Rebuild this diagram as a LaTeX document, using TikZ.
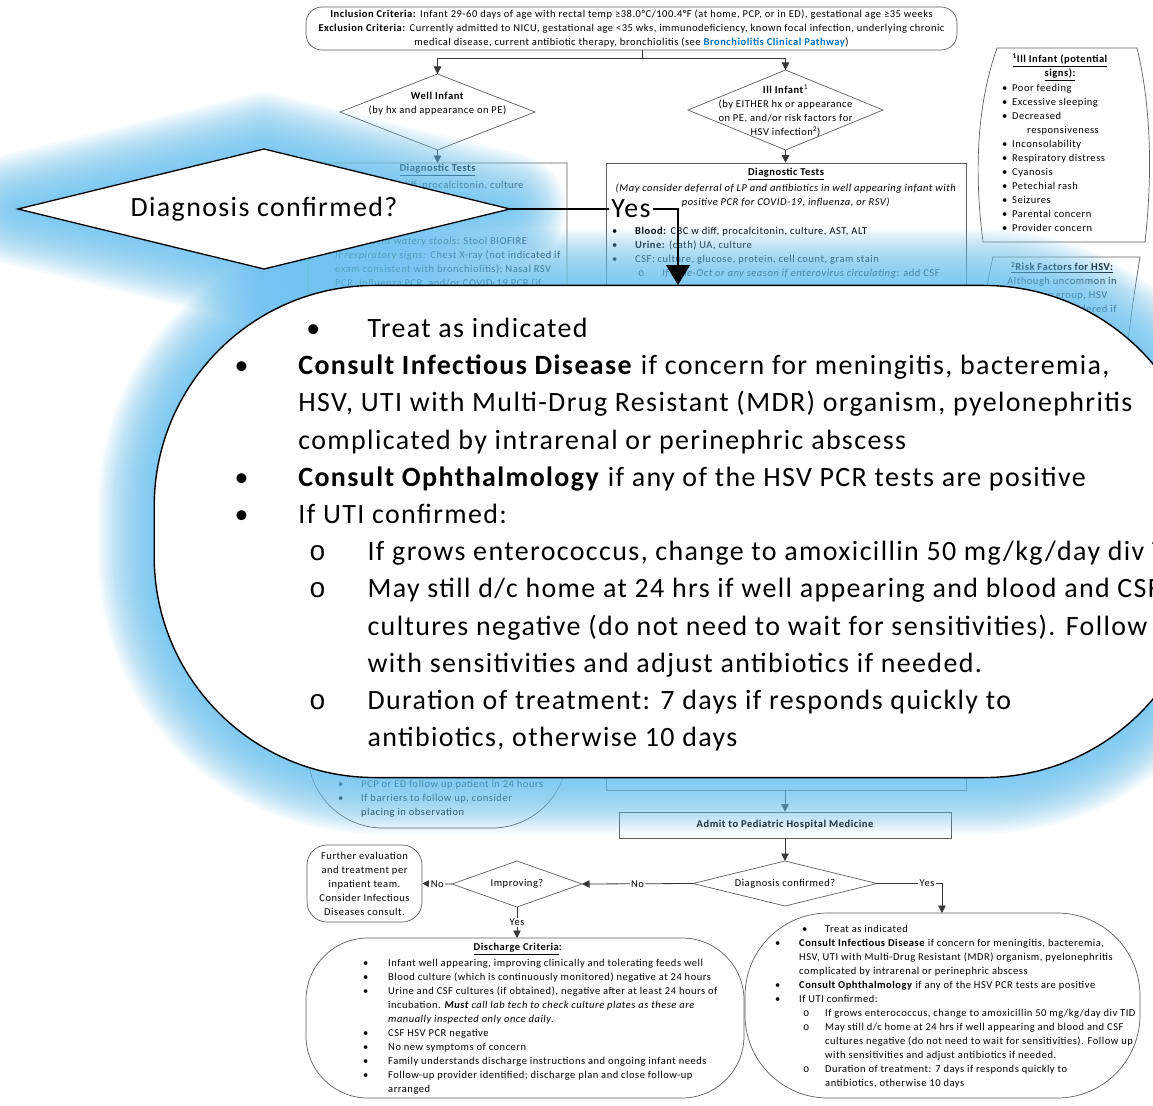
\documentclass[tikz,border=0pt]{standalone}
\usepackage{fontspec}
\setmainfont{Carlito}[LetterSpace=5]
\newfontfamily\monof{Liberation Mono}
\usetikzlibrary{arrows.meta,shapes.geometric}

\definecolor{linkblue}{RGB}{0,112,192}
\definecolor{glowblue}{RGB}{105,195,242}
\definecolor{edgegray}{RGB}{95,95,95}
\definecolor{wiregray}{RGB}{55,55,55}

\newcommand{\fsn}{\fontsize{10.5}{14}\selectfont}
\newcommand{\fbig}{\fontsize{27.9}{32}\selectfont}
% list helpers: left offset, label box width, text
\newcommand{\itemdot}[3]{\hspace*{#1pt}\makebox[#2pt][l]{\textbullet}#3}
\newcommand{\itemring}[3]{\hspace*{#1pt}\makebox[#2pt][l]{\monof o}#3}
\newcommand{\itemcont}[2]{\hspace*{#1pt}#2}

% body of the treatment box, used at normal size and magnified
\newcommand{\treatbody}{%
\itemdot{27}{23}{Treat as indicated}\\
\itemdot{0}{24}{\textbf{Consult Infectious Disease} if concern for meningitis, bacteremia,}\\
\itemcont{24}{HSV, UTI with Multi-Drug Resistant (MDR) organism, pyelonephritis}\\
\itemcont{24}{complicated by intrarenal or perinephric abscess}\\
\itemdot{0}{24}{\textbf{Consult Ophthalmology} if any of the HSV PCR tests are positive}\\
\itemdot{0}{24}{If UTI confirmed:}\\
\itemring{28}{22}{If grows enterococcus, change to amoxicillin 50 mg/kg/day div TID}\\
\itemring{28}{22}{May still d/c home at 24 hrs if well appearing and blood and CSF}\\
\itemcont{50}{cultures negative (do not need to wait for sensitivities). Follow up}\\
\itemcont{50}{with sensitivities and adjust antibiotics if needed.}\\
\itemring{28}{22}{Duration of treatment: 7 days if responds quickly to}\\
\itemcont{50}{antibiotics, otherwise 10 days}}

\tikzset{
  edge line/.style={draw=edgegray, line width=0.7pt},
  wire/.style={draw=wiregray, line width=0.8pt},
  arrowed/.style={-{Triangle[width=7.5pt,length=7.5pt]}},
  txt/.style={font=\fsn, inner sep=0pt, align=left, anchor=north west},
  ctxt/.style={font=\fsn, inner sep=0pt, align=center},
  lbl/.style={font=\fsn, fill=white, inner sep=1.5pt},
  flowdiamond/.style={diamond, edge line, inner sep=0pt, outer sep=0pt},
  treat outline/.style={insert path={(828,913) -- (1057,913)
      arc[start angle=-90,end angle=0,radius=83] -- (1140,1015)
      arc[start angle=0,end angle=90,radius=83] -- (828,1098)
      arc[start angle=90,end angle=180,radius=83] -- (745,996)
      arc[start angle=180,end angle=270,radius=83] -- cycle}},
  magnify/.style={shift={(-1827.5,-2143.14)}, scale=2.66},
  glowstroke/.style={draw=glowblue, opacity=0.055, line join=round},
  bigwire/.style={draw=black, line width=1.2pt},
}

\begin{document}
\begin{tikzpicture}[x=1pt,y=-1pt]
\useasboundingbox (0,0) rectangle (1153,1105);
\clip (0,0) rectangle (1153,1105);
\fill[white] (0,0) rectangle (1153,1105);

% ---------------- pathway flowchart ----------------
\node[edge line, rounded corners=16pt, minimum width=651pt, minimum height=43pt, ctxt] (topbox) at (631.5,28.5)
 {\textbf{Inclusion Criteria:} Infant 29-60 days of age with rectal temp ≥38.0°C/100.4°F (at home, PCP, or in ED), gestational age ≥35 weeks\\
  \textbf{Exclusion Criteria:} Currently admitted to NICU, gestational age <35 wks, immunodeficiency, known focal infection, underlying chronic\\
  medical disease, current antibiotic therapy, bronchiolitis (see \textcolor{linkblue}{\textbf{Bronchiolitis Clinical Pathway}})};

\node[flowdiamond, minimum width=195pt, minimum height=76pt] (well) at (437.5,112) {};
\node[ctxt] (welltxt) at (437.5,104) {\textbf{Well Infant}\\(by hx and appearance on PE)};
\node[flowdiamond, minimum width=195pt, minimum height=80pt] (ill) at (785.5,110) {};
\node[ctxt] (illtxt) at (785.5,111) {\textbf{Ill Infant}\textsuperscript{1}\\(by EITHER hx or appearance\\on PE, and/or risk factors for\\HSV infection\textsuperscript{2})};

\coordinate (split) at (642,58);
\draw[wire] (topbox.south -| split) -- (split);
\draw[wire, arrowed] (split) -| (well.north);
\draw[wire, arrowed] (split) -| (ill.north);

% well infant work-up box
\draw[edge line] (308,163) -- (308,753) arc[start angle=180,end angle=90,radius=75]
  -- (492,828) arc[start angle=90,end angle=0,radius=75] -- (567,163) -- cycle;
\coordinate (lboxtop) at (437.5,163);
\draw[wire, arrowed] (well.south) -- (lboxtop);
\node[ctxt] (ltitle) at (437.5,170) {\textbf{\underline{Diagnostic Tests}}};
\node[txt] (lblood) at (335,181) {\textbf{Blood:} CBC w diff, procalcitonin, culture};
\node[txt] (lresp) at (335,237) {\textit{If persistent watery stools}: Stool BIOFIRE\\
  \textit{If respiratory signs:} Chest X-ray (not indicated if\\
  exam consistent with bronchiolitis); Nasal RSV\\
  PCR, Influenza PCR, and/or COVID-19 PCR (if};
\node[txt] (lfollow) at (338,780) {\itemdot{0}{23}{PCP or ED follow up patient in 24 hours}\\
  \itemdot{0}{23}{If barriers to follow up, consider}\\
  \itemcont{23}{placing in observation}};

% ill infant work-up box
\node[edge line, minimum width=360pt, minimum height=627pt, inner sep=0pt] (rbox) at (786,476.5) {};
\draw[wire, arrowed] (ill.south) -- (ill.south |- rbox.north);
\node[ctxt] (rtitle) at (786,174) {\textbf{\underline{Diagnostic Tests}}};
\node[ctxt] (rnote) at (786,196) {\textit{(May consider deferral of LP and antibiotics in well appearing infant with}\\
  \textit{positive PCR for COVID-19, influenza, or RSV)}};
\node[txt] (rlist) at (612,227) {\itemdot{0}{23}{\textbf{Blood:} CBC w diff, procalcitonin, culture, AST, ALT}\\
  \itemdot{0}{23}{\textbf{Urine:} (cath) UA, culture}\\
  \itemdot{0}{23}{CSF: culture, glucose, protein, cell count, gram stain}\\
  \itemring{26}{24}{\textit{If June-Oct or any season if enterovirus circulating}: add CSF}};

% footnote panels
\draw[edge line] (997,48) -- (1137,48) .. controls (1152,110) and (1152,180) .. (1145,242)
  -- (983,242) .. controls (975,180) and (975,110) .. (997,48) -- cycle;
\node[ctxt, anchor=north] (p1title) at (1060,54) {\textbf{\underline{\textsuperscript{1}Ill Infant (potential}}\\\textbf{\underline{signs):}}};
\node[txt] (p1list) at (1002,84) {\itemdot{0}{10}{Poor feeding}\\\itemdot{0}{10}{Excessive sleeping}\\
  \itemdot{0}{10}{Decreased}\\\itemcont{25}{responsiveness}\\\itemdot{0}{10}{Inconsolability}\\
  \itemdot{0}{10}{Respiratory distress}\\\itemdot{0}{10}{Cyanosis}\\\itemdot{0}{10}{Petechial rash}\\
  \itemdot{0}{10}{Seizures}\\\itemdot{0}{10}{Parental concern}\\\itemdot{0}{10}{Provider concern}};
\draw[edge line] (993,257) -- (1140,257) .. controls (1128,330) and (1120,400) .. (1115,500)
  -- (980,500) .. controls (975,400) and (978,320) .. (993,257) -- cycle;
\node[ctxt, anchor=north] (p2text) at (1062,262) {\textbf{\underline{\textsuperscript{2}Risk Factors for HSV:}}\\
  Although uncommon in\\this age group, HSV\\should be considered if};

% admission and inpatient decisions
\node[edge line, minimum width=332pt, minimum height=26pt, font=\fsn\bfseries] (admit) at (785,825) {Admit to Pediatric Hospital Medicine};
\draw[wire, arrowed] (rbox.south -| admit) -- (admit.north);
\node[flowdiamond, minimum width=184pt, minimum height=45pt] (dc) at (785,883.5) {};
\node[ctxt] (dctxt) at (dc) {Diagnosis confirmed?};
\draw[wire, arrowed] (admit.south) -- (dc.north);
\node[flowdiamond, minimum width=130pt, minimum height=46pt] (imp) at (517,884) {};
\node[ctxt] (imptxt) at (imp) {Improving?};
\draw[wire, arrowed] (dc.west) -- node[lbl] (dcno) {No} (imp.east);
\node[edge line, rounded corners=20pt, minimum width=115pt, minimum height=77pt, ctxt] (further) at (364.5,883.5)
 {Further evaluation\\and treatment per\\inpatient team.\\Consider Infectious\\Diseases consult.};
\draw[wire, arrowed] (imp.west) -- node[lbl] (impno) {No} (further.east);

% discharge criteria
\draw[edge line] (368,938) -- (682,938) arc[start angle=-90,end angle=0,radius=62] -- (744,1036)
  arc[start angle=0,end angle=90,radius=62] -- (368,1098) arc[start angle=90,end angle=180,radius=62]
  -- (306,1000) arc[start angle=180,end angle=270,radius=62] -- cycle;
\coordinate (dischtop) at (517,938);
\draw[wire, arrowed] (imp.south) -- node[lbl] (impyes) {Yes} (dischtop);
\node[ctxt] (dtitle) at (518,949) {\textbf{\underline{Discharge Criteria}:}};
\node[txt] (dlist) at (363,959) {\itemdot{0}{25}{Infant well appearing, improving clinically and tolerating feeds well}\\
  \itemdot{0}{25}{Blood culture (which is continuously monitored) negative at 24 hours}\\
  \itemdot{0}{25}{Urine and CSF cultures (if obtained), negative after at least 24 hours of}\\
  \itemcont{25}{incubation. \textit{\textbf{Must} call lab tech to check culture plates as these are}}\\
  \itemcont{25}{\textit{manually inspected only once daily}.}\\
  \itemdot{0}{25}{CSF HSV PCR negative}\\
  \itemdot{0}{25}{No new symptoms of concern}\\
  \itemdot{0}{25}{Family understands discharge instructions and ongoing infant needs}\\
  \itemdot{0}{25}{Follow-up provider identified; discharge plan and close follow-up}\\
  \itemcont{25}{arranged}};

% treatment box
\path[fill=white, edge line, treat outline];
\node[txt] (treat) at (775,925) {\treatbody};
\coordinate (treattop) at (942,913);
\draw[wire, arrowed] (dc.east) -| node[lbl, pos=0.385] (dcyes) {Yes} (treattop);

% ---------------- magnified decision and treatment box ----------------
\node[diamond, minimum width=492pt, minimum height=120pt, inner sep=0pt, outer sep=0pt] (bigshape) at (264,209) {};

% soft glow behind both magnified shapes
\foreach \w in {112,108,...,4}{
  \path[glowstroke, line width=\w pt] (bigshape.west) -- (bigshape.north) -- (bigshape.east) -- (bigshape.south) -- cycle;
}
\begin{scope}[magnify]
  \foreach \w in {112,108,...,4}{
    \path[glowstroke, line width=\w pt, treat outline];
  }
\end{scope}

\begin{scope}[magnify]
  \path[fill=white, draw=black, line width=1.4pt, treat outline];
  \node[txt, transform shape] (bigtreat) at (775,925) {\treatbody};
\end{scope}

\path[fill=white, draw=black, line width=1.3pt] (bigshape.west) -- (bigshape.north) -- (bigshape.east) -- (bigshape.south) -- cycle;
\node[font=\fbig, inner sep=0pt] (bigq) at (bigshape) {Diagnosis confirmed?};

\node[font=\fbig, fill=white, inner sep=2pt] (bigyes) at (631,209) {Yes};
\coordinate (bigtip) at (678,285);
\draw[bigwire] (bigshape.east) -- (bigyes.west);
\draw[bigwire, -{Triangle[width=24pt,length=20pt]}] (bigyes.east) -| (bigtip);
\end{tikzpicture}
\end{document}
